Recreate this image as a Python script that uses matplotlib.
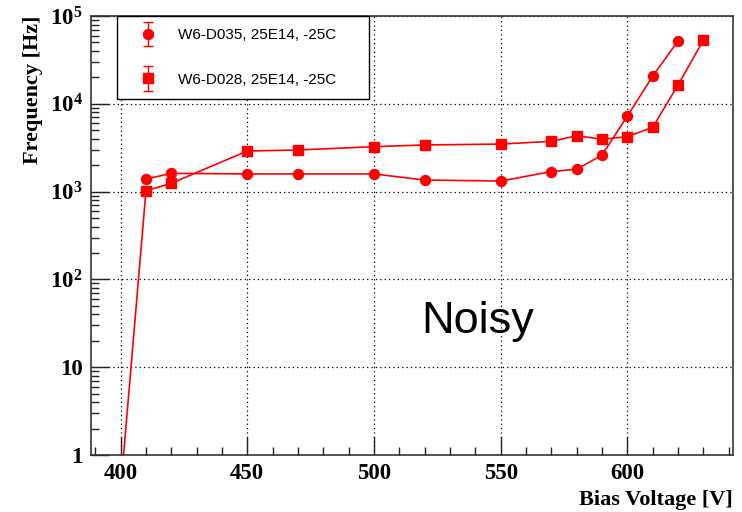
import matplotlib

matplotlib.use("Agg")

import matplotlib.pyplot as plt
import numpy as np
from matplotlib.legend_handler import HandlerErrorbar
from matplotlib.ticker import FixedLocator, FuncFormatter, LogLocator, MultipleLocator, NullFormatter

# values
volt_d035 = [410, 420, 450, 470, 500, 520, 550, 570, 580, 590, 600, 610, 620]
freq_d035 = [1390, 1615, 1590, 1590, 1590, 1355, 1320, 1690, 1800, 2610, 7250, 20700, 52000]

volt_d028 = [400, 410, 420, 450, 470, 500, 520, 550, 570, 580, 590, 600, 610, 620, 630]
freq_d028 = [0.4, 1020, 1245, 2900, 2980, 3250, 3400, 3480, 3740, 4330, 3950, 4230, 5400, 16400, 53000]

label_d035 = "W6-D035, 25E14, -25C"
label_d028 = "W6-D028, 25E14, -25C"

plt.rcParams["mathtext.fontset"] = "custom"
plt.rcParams["mathtext.rm"] = "Liberation Serif:bold"
plt.rcParams["mathtext.bf"] = "Liberation Serif:bold"

serif_bold = dict(family="Liberation Serif", weight="bold")
red = "#ff0000"

fig = plt.figure(figsize=(7.42, 5.12), dpi=100)
ax = fig.add_axes([0.1226, 0.1113, 0.8653, 0.8574])

ax.plot(volt_d035, freq_d035, color=red, lw=1.2, marker="o", ms=7.2, mec=red, zorder=3)
ax.plot(volt_d028, freq_d028, color=red, lw=1.2, marker="s", ms=7.5, mec=red, zorder=3)

ax.set_yscale("log")
ax.set_xlim(388.3, 641.7)
ax.set_ylim(1, 1e5)

# ticks: ROOT style, inside, left/bottom only
ax.xaxis.set_major_locator(MultipleLocator(50))
ax.xaxis.set_minor_locator(MultipleLocator(10))
ax.yaxis.set_major_locator(FixedLocator([1, 10, 1e2, 1e3, 1e4, 1e5]))
ax.yaxis.set_minor_locator(LogLocator(base=10, subs=np.arange(2, 10), numticks=20))
ax.yaxis.set_minor_formatter(NullFormatter())


def ylab(v, pos):
    e = int(round(np.log10(v)))
    if e == 0:
        return "1"
    if e == 1:
        return "10"
    return r"$\mathbf{10^{%d}}$" % e


ax.yaxis.set_major_formatter(FuncFormatter(ylab))
ax.tick_params(which="both", direction="in", top=False, right=False, color="#222222")
ax.tick_params(which="major", length=13, width=1.0, pad=6)
ax.tick_params(which="minor", length=6, width=1.0)
for lab in ax.get_xticklabels() + ax.get_yticklabels():
    lab.set_fontproperties(matplotlib.font_manager.FontProperties(size=16.5, **serif_bold))

ax.grid(True, which="major", color="black", linestyle=(0, (1, 2.5)), linewidth=0.9)
ax.set_axisbelow(True)
for sp in ax.spines.values():
    sp.set_color("#333333")
    sp.set_linewidth(1.2)

ax.set_xlabel("Bias Voltage [V]", fontsize=16, ha="right", x=1.0, labelpad=4, **serif_bold)
ax.set_ylabel("Frequency [Hz]", fontsize=16, ha="right", y=1.0, labelpad=5, **serif_bold)

ax.text(0.603, 0.278, "Noisy", transform=ax.transAxes, ha="center", va="baseline",
        fontsize=32.5, family="Liberation Sans")

# legend entries with error-bar glyphs like the original
h1 = ax.errorbar([np.nan], [np.nan], yerr=[1], color=red, marker="o", ms=7.2, ls="none",
                 capsize=3.5, elinewidth=1.0, label=label_d035)
h2 = ax.errorbar([np.nan], [np.nan], yerr=[1], color=red, marker="s", ms=7.5, ls="none",
                 capsize=3.5, elinewidth=1.0, label=label_d028)
leg = ax.legend(handles=[h1, h2], loc="upper left", bbox_to_anchor=(0.0405, 0.811, 0.392, 0.189),
                mode="expand", borderaxespad=0, fancybox=False, framealpha=1, edgecolor="black",
                prop=dict(family="Liberation Sans", size=11), handlelength=2.45,
                handletextpad=0.75, labelspacing=2.0, borderpad=0.8,
                handler_map={h1: HandlerErrorbar(yerr_size=0.8), h2: HandlerErrorbar(yerr_size=0.8)})
leg.get_frame().set_linewidth(1.0)

fig.savefig("out.png", dpi=100)
